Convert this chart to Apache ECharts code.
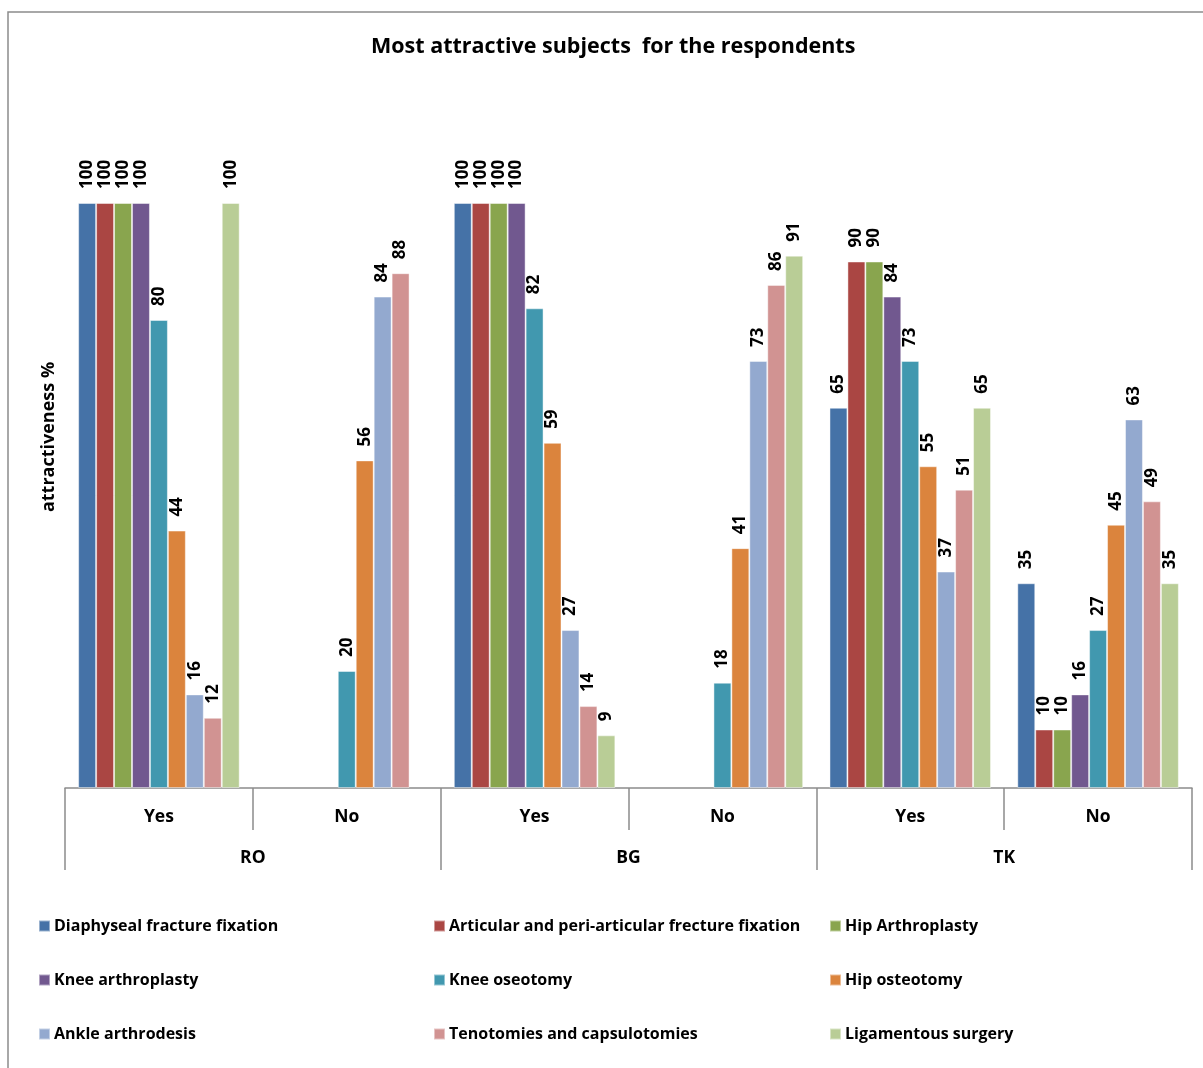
<!DOCTYPE html>
<html>
<head>
<meta charset="utf-8">
<script src="https://cdn.jsdelivr.net/npm/echarts@6/dist/echarts.min.js"></script>
<style>
  html, body { margin: 0; padding: 0; background: #fff; }
  #chart { width: 1203px; height: 1068px; }
</style>
</head>
<body>
<div id="chart"></div>
<script>
// Answer groups (inner level) and countries (outer level)
const answers = ['Yes', 'No', 'Yes', 'No', 'Yes', 'No'];
const countries = ['RO', 'BG', 'TK'];

// Surgical subjects, one bar series each
const subjects = [
  'Diaphyseal fracture fixation',
  'Articular and peri-articular frecture fixation',
  'Hip Arthroplasty',
  'Knee arthroplasty',
  'Knee oseotomy',
  'Hip osteotomy',
  'Ankle arthrodesis',
  'Tenotomies and capsulotomies',
  'Ligamentous surgery'
];

// Percent of respondents per group: RO Yes, RO No, BG Yes, BG No, TK Yes, TK No
const diaphyseal  = [100, null, 100, null, 65, 35];
const articular   = [100, null, 100, null, 90, 10];
const hipArthro   = [100, null, 100, null, 90, 10];
const kneeArthro  = [100, null, 100, null, 84, 16];
const kneeOsteo   = [80, 20, 82, 18, 73, 27];
const hipOsteo    = [44, 56, 59, 41, 55, 45];
const ankle       = [16, 84, 27, 73, 37, 63];
const tenotomies  = [12, 88, 14, 86, 51, 49];
const ligamentous = [100, null, 9, 91, 65, 35];

const seriesValues = [diaphyseal, articular, hipArthro, kneeArthro, kneeOsteo,
                      hipOsteo, ankle, tenotomies, ligamentous];

const colors = ['#4572A7', '#AA4643', '#89A54E', '#71588F', '#4198AF',
                '#DB843D', '#93A9CF', '#D19392', '#B9CD96'];

const FONT = '"Open Sans", "Noto Sans", sans-serif';
const chart = echarts.init(document.getElementById('chart'));

const series = subjects.map((name, i) => ({
  name: name,
  type: 'bar',
  xAxisIndex: 0,
  data: seriesValues[i],
  barGap: '0%',
  barCategoryGap: '14%',
  itemStyle: { color: colors[i], borderColor: 'rgba(255,255,255,0.45)', borderWidth: 1 },
  label: {
    show: true,
    position: 'top',
    rotate: 90,
    align: 'left',
    verticalAlign: 'middle',
    distance: 14,
    fontFamily: FONT,
    fontWeight: 'bold',
    fontSize: 17,
    color: '#000'
  }
}));

// Three legend columns, items stacked in rows
const legendCols = [33, 428, 824].map((x, c) => ({
  orient: 'vertical',
  left: x,
  top: 913,
  itemGap: 38,
  itemWidth: 11,
  itemHeight: 11,
  icon: 'rect',
  data: [subjects[c], subjects[c + 3], subjects[c + 6]],
  textStyle: { fontFamily: FONT, fontWeight: 'bold', fontSize: 16, color: '#000', padding: [0, 0, 0, -1] }
}));

chart.setOption({
  animation: false,
  color: colors,
  title: {
    text: 'Most attractive subjects  for the respondents',
    left: 366,
    top: 31,
    textStyle: { fontFamily: FONT, fontWeight: 'bold', fontSize: 21.5, color: '#000' }
  },
  graphic: [{
    type: 'rect',
    shape: { x: 8, y: 12, width: 1300, height: 1200 },
    style: { fill: 'none', stroke: '#8c8c8c', lineWidth: 1.5 },
    silent: true
  }],
  legend: legendCols,
  grid: { left: 65, right: 11, top: 86, bottom: 280 },
  xAxis: [{
    type: 'category',
    data: answers,
    position: 'bottom',
    axisLine: { show: true, lineStyle: { color: '#8c8c8c', width: 1.5 } },
    axisTick: { show: true, length: 42, interval: 0, lineStyle: { color: '#8c8c8c', width: 1.5 } },
    axisLabel: { interval: 0, margin: 20, fontFamily: FONT, fontWeight: 'bold', fontSize: 17.5, color: '#000' }
  }, {
    type: 'category',
    data: countries,
    position: 'bottom',
    axisLine: { show: false },
    axisTick: { show: true, length: 82, interval: 0, lineStyle: { color: '#8c8c8c', width: 1.5 } },
    axisLabel: { interval: 0, margin: 61, fontFamily: FONT, fontWeight: 'bold', fontSize: 17.5, color: '#000' }
  }],
  yAxis: {
    type: 'value',
    min: 0,
    max: 120,
    name: 'attractiveness %',
    nameLocation: 'middle',
    nameGap: 7,
    nameTextStyle: { fontFamily: FONT, fontWeight: 'bold', fontSize: 18, color: '#000' },
    axisLine: { show: false },
    axisTick: { show: false },
    axisLabel: { show: false },
    splitLine: { show: false }
  },
  series: series
});
</script>
</body>
</html>
